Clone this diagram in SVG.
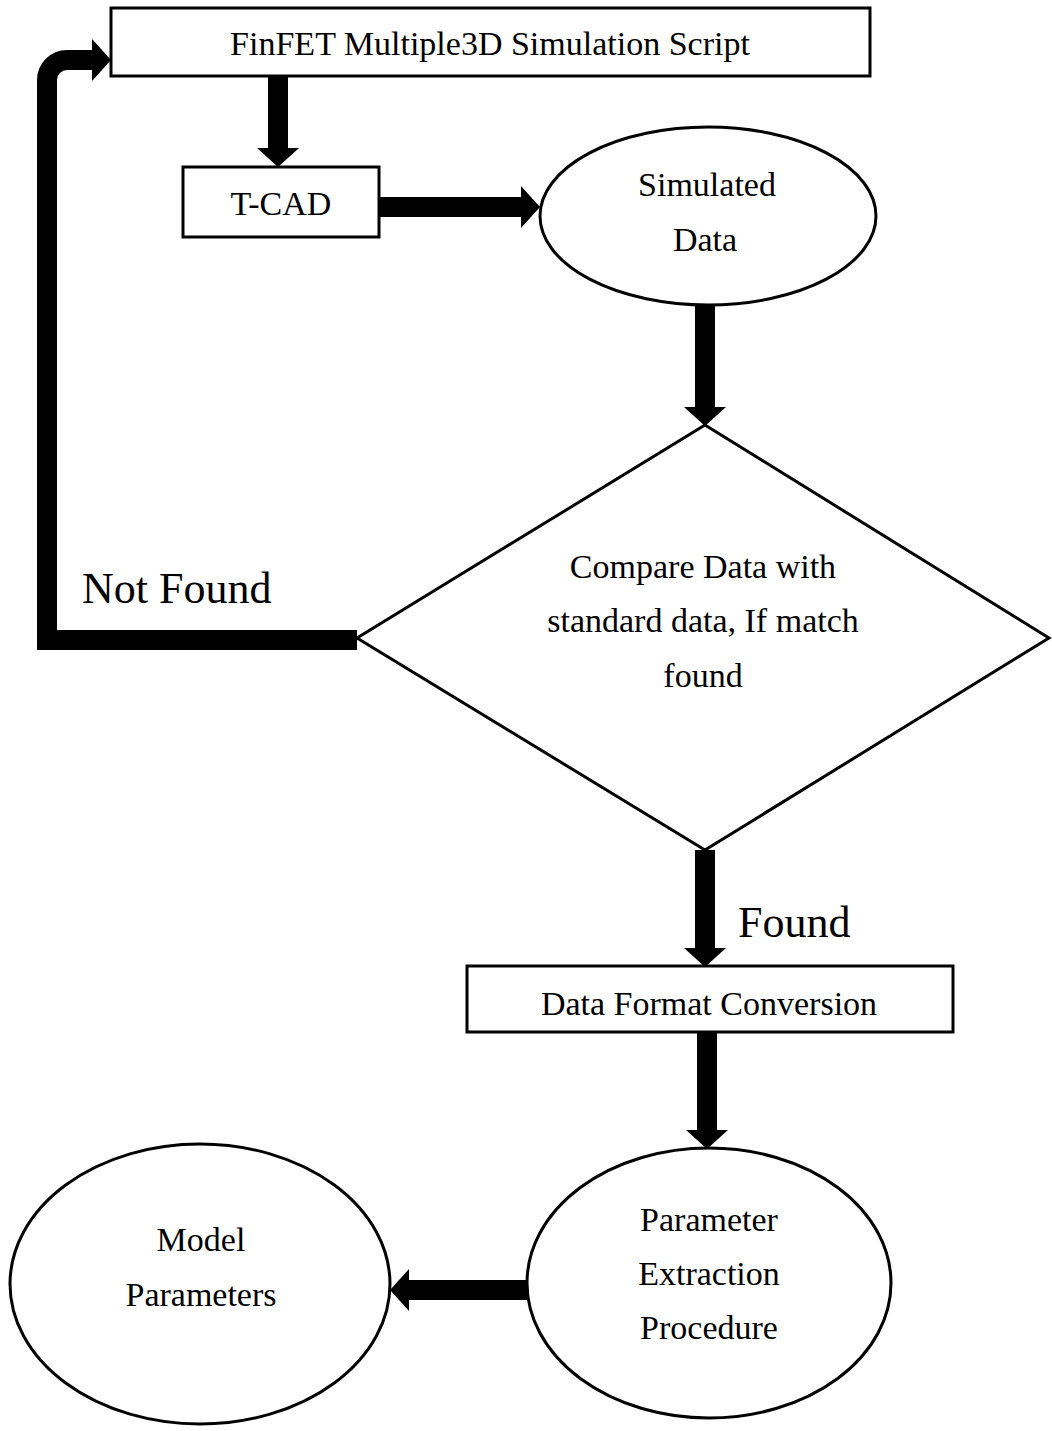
<svg xmlns="http://www.w3.org/2000/svg" width="1052" height="1431" viewBox="0 0 1052 1431">
<defs>
<style>
.box{fill:#fff;stroke:#000;stroke-width:3}
.t{font-family:"Liberation Serif","Times New Roman",serif;font-size:34px;fill:#000;text-anchor:middle}
.lbl{font-family:"Liberation Serif","Times New Roman",serif;font-size:44px;fill:#000}
.c{fill:none;stroke:#000;stroke-width:20}
</style>
<marker id="ah" markerUnits="userSpaceOnUse" markerWidth="20" markerHeight="42" refX="0" refY="21" orient="auto">
<path d="M0,0 L19,21 L0,42 z" fill="#000"/>
</marker>
</defs>
<rect width="1052" height="1431" fill="#fff"/>
<g id="connectors">
<line class="c" x1="278" y1="76" x2="278" y2="148" marker-end="url(#ah)"/>
<line class="c" x1="379" y1="207" x2="521" y2="207" marker-end="url(#ah)"/>
<line class="c" x1="705" y1="305" x2="705" y2="407" marker-end="url(#ah)"/>
<path class="c" d="M357,640 L47,640 L47,80 A20,20 0 0 1 67,60 L92,60" stroke-linejoin="miter" marker-end="url(#ah)"/>
<line class="c" x1="705" y1="850" x2="705" y2="948" marker-end="url(#ah)"/>
<line class="c" x1="707" y1="1032" x2="707" y2="1130" marker-end="url(#ah)"/>
<line class="c" x1="527" y1="1290" x2="409" y2="1290" marker-end="url(#ah)"/>
</g>
<g id="n-script">
<rect class="box" x="111" y="8" width="759" height="68"/>
<text class="t" x="490" y="55">FinFET Multiple3D Simulation Script</text>
</g>
<g id="n-tcad">
<rect class="box" x="183" y="167" width="196" height="70"/>
<text class="t" x="281" y="215">T-CAD</text>
</g>
<g id="n-sim">
<ellipse class="box" cx="708" cy="216" rx="168" ry="89"/>
<text class="t" x="707" y="196">Simulated</text>
<text class="t" x="705" y="251">Data</text>
</g>
<g id="n-compare">
<polygon class="box" points="705,425 1049,638 705,850 357,638"/>
<text class="t" x="703" y="578">Compare Data with</text>
<text class="t" x="703" y="632">standard data, If match</text>
<text class="t" x="703" y="687">found</text>
</g>
<g id="n-dfc">
<rect class="box" x="467" y="966" width="486" height="66"/>
<text class="t" x="709" y="1015">Data Format Conversion</text>
</g>
<g id="n-pep">
<ellipse class="box" cx="709" cy="1283" rx="182" ry="135"/>
<text class="t" x="709" y="1231">Parameter</text>
<text class="t" x="709" y="1285">Extraction</text>
<text class="t" x="709" y="1339">Procedure</text>
</g>
<g id="n-model">
<ellipse class="box" cx="200" cy="1284" rx="190" ry="140"/>
<text class="t" x="201" y="1251">Model</text>
<text class="t" x="201" y="1306">Parameters</text>
</g>
<g id="labels">
<text class="lbl" x="82" y="603">Not Found</text>
<text class="lbl" x="738" y="937">Found</text>
</g>
</svg>
